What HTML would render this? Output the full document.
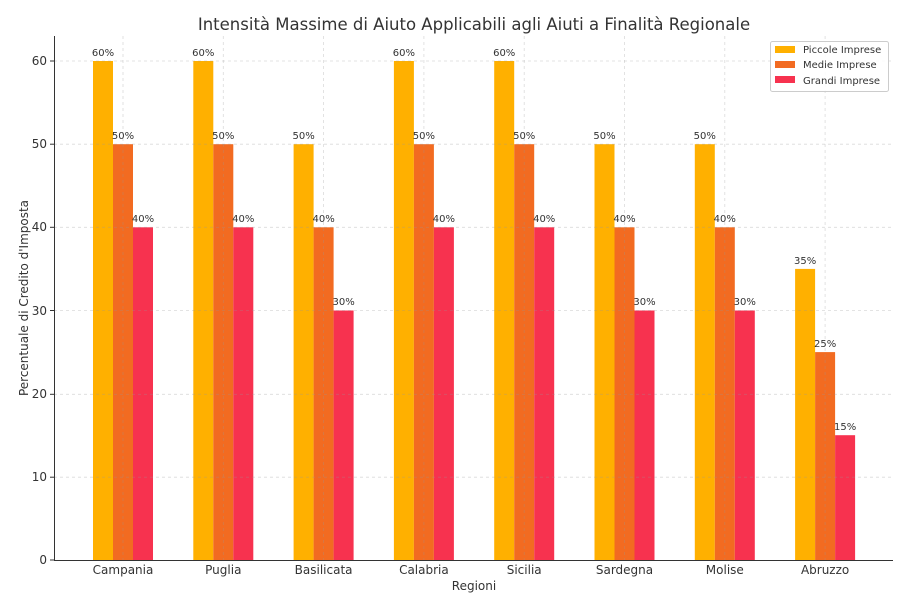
<!DOCTYPE html><html><head><style>body{margin:0;background:#fff}svg{display:block;font-family:"DejaVu Sans","Liberation Sans",sans-serif}</style></head><body>
<svg width="917" height="599" viewBox="0 0 917 599">
<text x="474" y="30" font-size="16.5" text-anchor="middle" fill="#333">Intensità Massime di Aiuto Applicabili agli Aiuti a Finalità Regionale</text>
<g fill="#FFB000">
<rect x="93" y="61" width="20" height="499"/><rect x="193.3" y="61" width="20" height="499"/><rect x="293.6" y="144.2" width="20" height="415.8"/><rect x="393.9" y="61" width="20" height="499"/><rect x="494.2" y="61" width="20" height="499"/><rect x="594.5" y="144.2" width="20" height="415.8"/><rect x="694.8" y="144.2" width="20" height="415.8"/><rect x="795.1" y="268.9" width="20" height="291.1"/>
</g>
<g fill="#F26B21">
<rect x="113" y="144.2" width="20" height="415.8"/><rect x="213.3" y="144.2" width="20" height="415.8"/><rect x="313.6" y="227.3" width="20" height="332.7"/><rect x="413.9" y="144.2" width="20" height="415.8"/><rect x="514.2" y="144.2" width="20" height="415.8"/><rect x="614.5" y="227.3" width="20" height="332.7"/><rect x="714.8" y="227.3" width="20" height="332.7"/><rect x="815.1" y="352.1" width="20" height="207.9"/>
</g>
<g fill="#F7324F">
<rect x="133" y="227.3" width="20" height="332.7"/><rect x="233.3" y="227.3" width="20" height="332.7"/><rect x="333.6" y="310.5" width="20" height="249.5"/><rect x="433.9" y="227.3" width="20" height="332.7"/><rect x="534.2" y="227.3" width="20" height="332.7"/><rect x="634.5" y="310.5" width="20" height="249.5"/><rect x="734.8" y="310.5" width="20" height="249.5"/><rect x="835.1" y="435.2" width="20" height="124.8"/>
</g>
<g stroke="#999" stroke-opacity="0.35" stroke-dasharray="3,3" stroke-width="0.8">
<line x1="54" x2="893" y1="477.2" y2="477.2"/><line x1="54" x2="893" y1="394.3" y2="394.3"/><line x1="54" x2="893" y1="310.5" y2="310.5"/><line x1="54" x2="893" y1="227.3" y2="227.3"/><line x1="54" x2="893" y1="144.2" y2="144.2"/><line x1="54" x2="893" y1="61" y2="61"/>
<line x1="123" x2="123" y1="36" y2="560"/><line x1="223.3" x2="223.3" y1="36" y2="560"/><line x1="323.6" x2="323.6" y1="36" y2="560"/><line x1="423.9" x2="423.9" y1="36" y2="560"/><line x1="524.2" x2="524.2" y1="36" y2="560"/><line x1="624.5" x2="624.5" y1="36" y2="560"/><line x1="724.8" x2="724.8" y1="36" y2="560"/><line x1="825.1" x2="825.1" y1="36" y2="560"/>
</g>
<g font-size="10" fill="#333" text-anchor="middle">
<text x="103" y="56">60%</text><text x="123" y="139">50%</text><text x="143" y="222">40%</text>
<text x="203.3" y="56">60%</text><text x="223.3" y="139">50%</text><text x="243.3" y="222">40%</text>
<text x="303.6" y="139">50%</text><text x="323.6" y="222">40%</text><text x="343.6" y="305">30%</text>
<text x="403.9" y="56">60%</text><text x="423.9" y="139">50%</text><text x="443.9" y="222">40%</text>
<text x="504.2" y="56">60%</text><text x="524.2" y="139">50%</text><text x="544.2" y="222">40%</text>
<text x="604.5" y="139">50%</text><text x="624.5" y="222">40%</text><text x="644.5" y="305">30%</text>
<text x="704.8" y="139">50%</text><text x="724.8" y="222">40%</text><text x="744.8" y="305">30%</text>
<text x="805.1" y="264">35%</text><text x="825.1" y="347">25%</text><text x="845.1" y="430">15%</text>
</g>
<g stroke="#333" stroke-width="1" fill="none"><path d="M54.5 36V560.5H893"/></g>
<g stroke="#333"><line x1="50" x2="54" y1="560" y2="560"/><line x1="50" x2="54" y1="477.2" y2="477.2"/><line x1="50" x2="54" y1="394.3" y2="394.3"/><line x1="50" x2="54" y1="310.5" y2="310.5"/><line x1="50" x2="54" y1="227.3" y2="227.3"/><line x1="50" x2="54" y1="144.2" y2="144.2"/><line x1="50" x2="54" y1="61" y2="61"/></g>
<g font-size="12" fill="#333" text-anchor="end">
<text x="47" y="564">0</text><text x="47" y="481">10</text><text x="47" y="398">20</text><text x="47" y="315">30</text><text x="47" y="231">40</text><text x="47" y="148">50</text><text x="47" y="65">60</text>
</g>
<g font-size="12" fill="#333" text-anchor="middle">
<text x="123" y="574">Campania</text><text x="223.3" y="574">Puglia</text><text x="323.6" y="574">Basilicata</text><text x="423.9" y="574">Calabria</text><text x="524.2" y="574">Sicilia</text><text x="624.5" y="574">Sardegna</text><text x="724.8" y="574">Molise</text><text x="825.1" y="574">Abruzzo</text>
<text x="474" y="590">Regioni</text>
<text transform="translate(28,298) rotate(-90)">Percentuale di Credito d'Imposta</text>
</g>
<rect x="770.5" y="41.5" width="118" height="50" rx="2" fill="#fff" fill-opacity="0.85" stroke="#ccc"/>
<rect x="775" y="46" width="20" height="7" fill="#FFB000"/><rect x="775" y="61" width="20" height="7" fill="#F26B21"/><rect x="775" y="76" width="20" height="7" fill="#F7324F"/>
<g font-size="10" fill="#333"><text x="803" y="53">Piccole Imprese</text><text x="803" y="68">Medie Imprese</text><text x="803" y="84">Grandi Imprese</text></g>
</svg></body></html>
